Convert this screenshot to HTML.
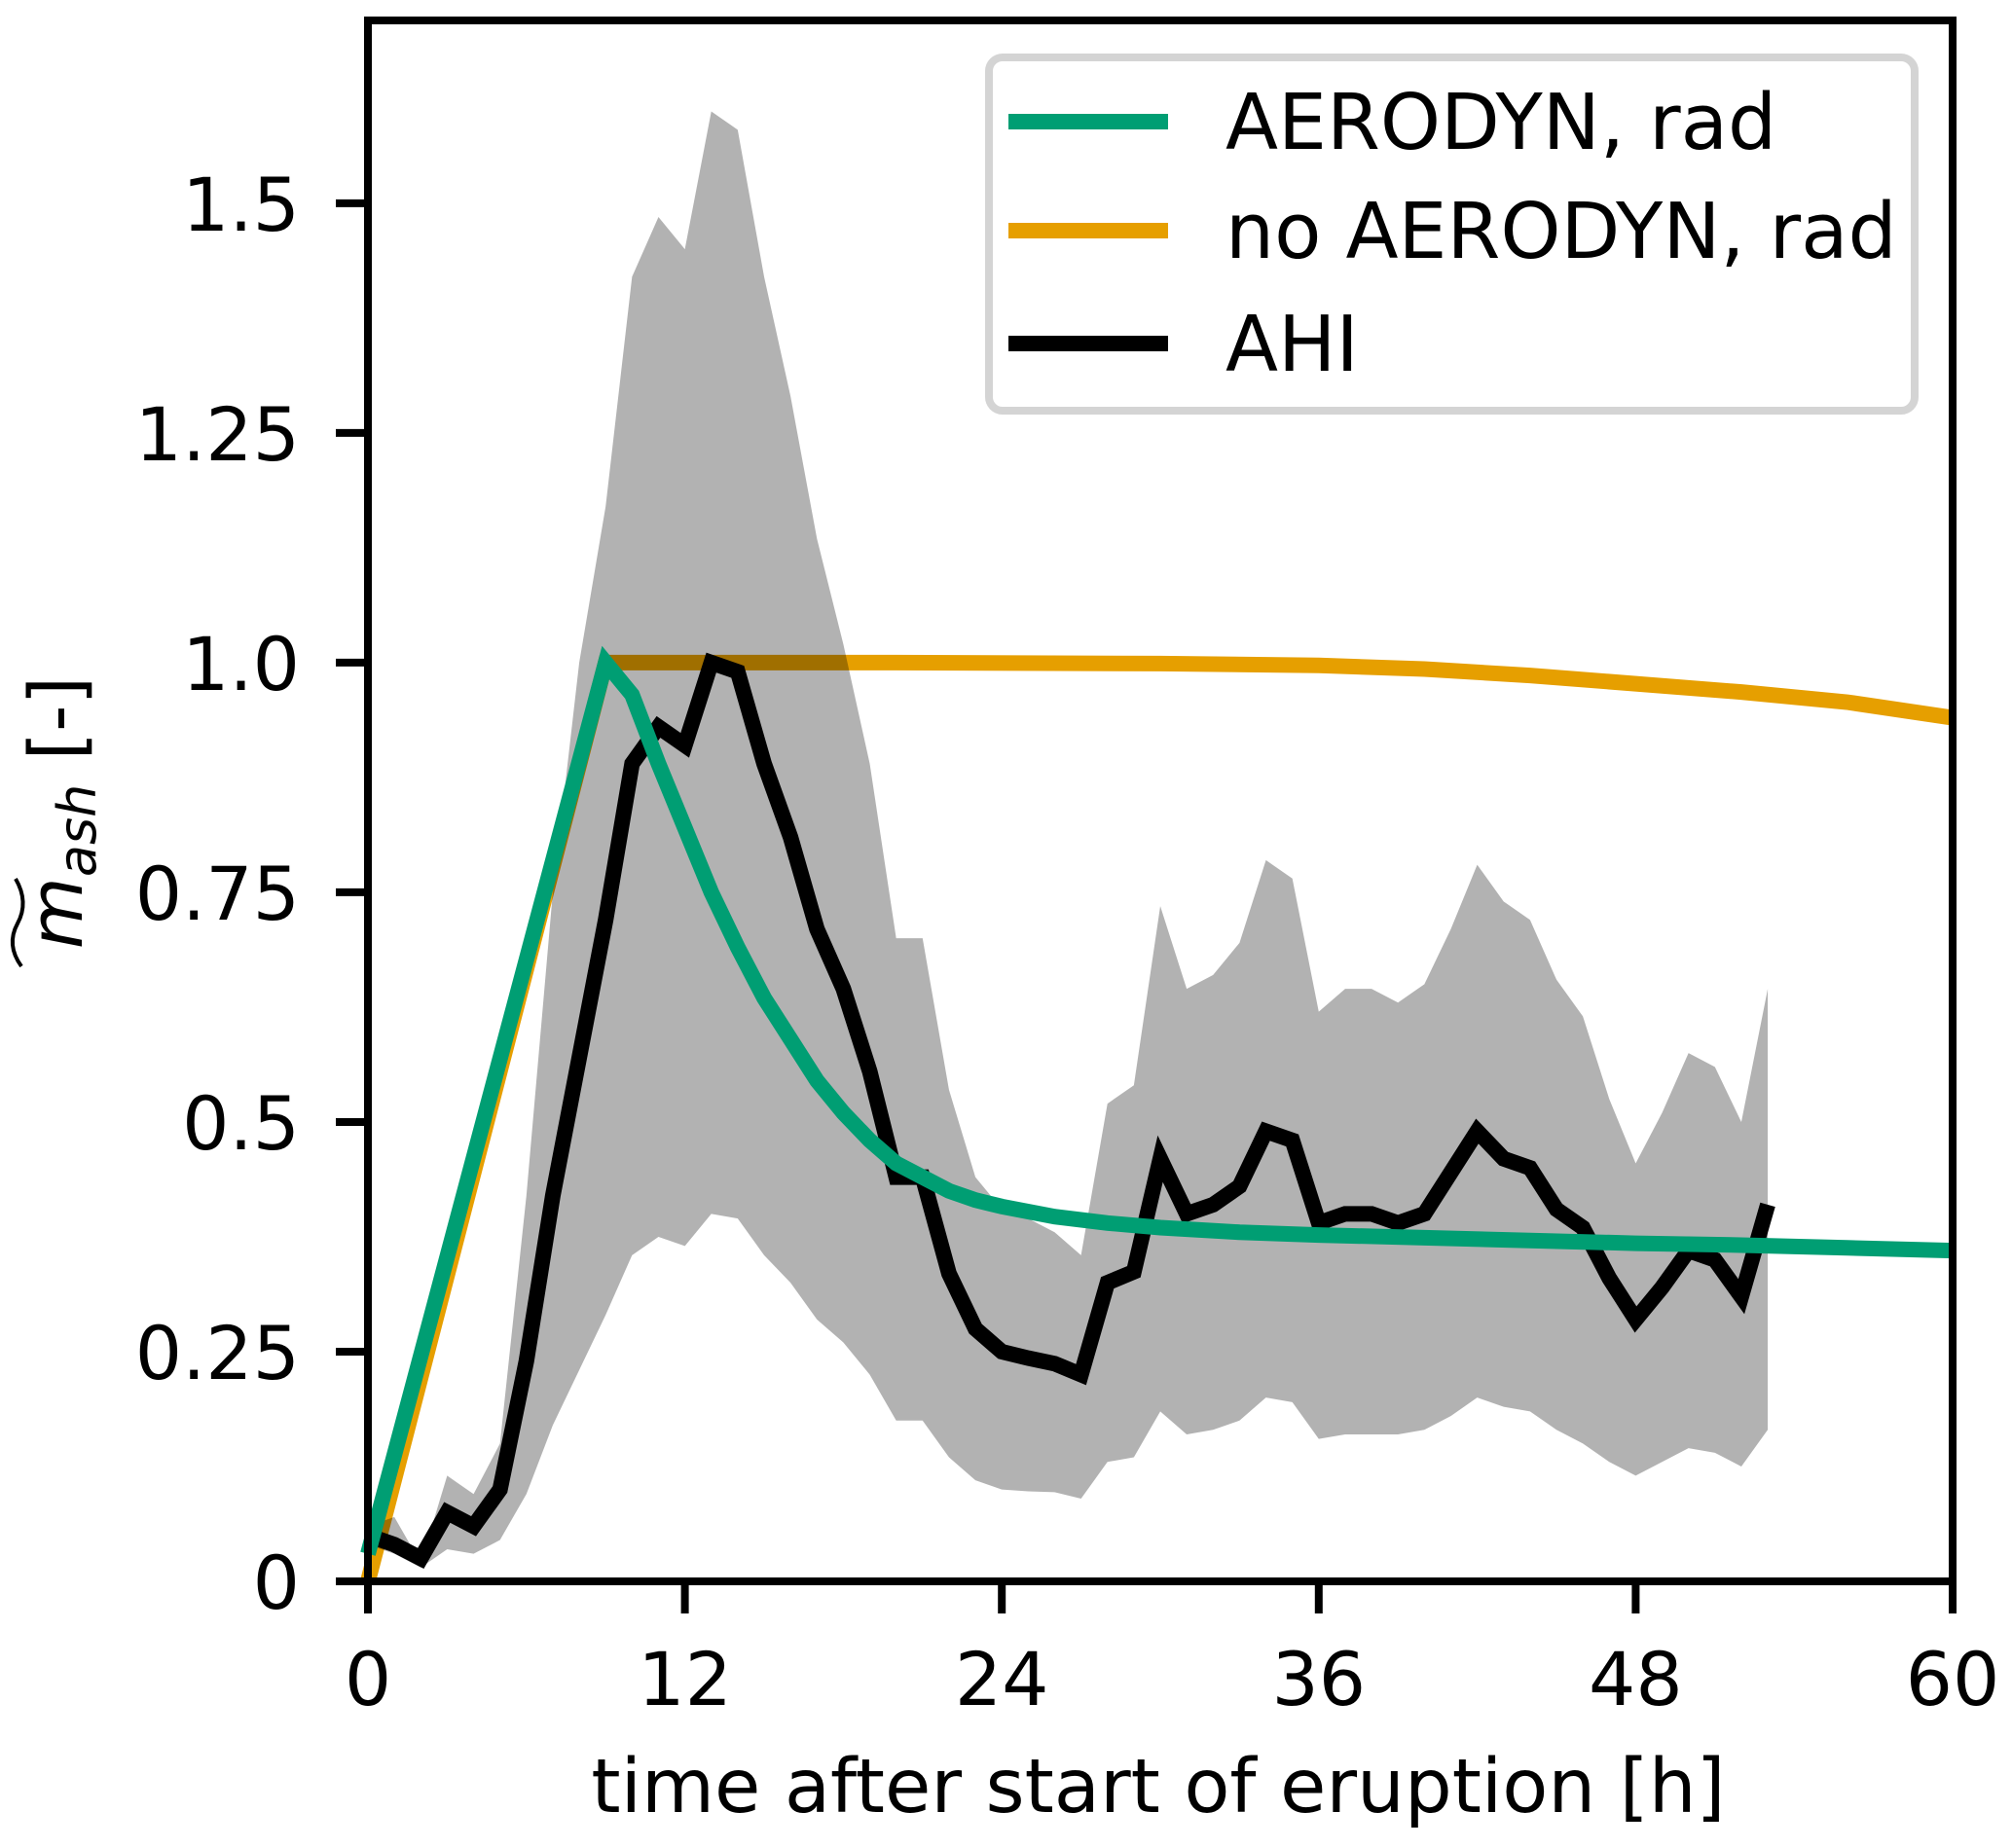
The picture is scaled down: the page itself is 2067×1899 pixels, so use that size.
<!DOCTYPE html>
<html><head><meta charset="utf-8"><style>
html,body{margin:0;padding:0;background:#fff;}
svg{display:block;font-family:"DejaVu Sans","Liberation Sans",sans-serif;}
</style></head><body>
<svg id="chart" width="2067" height="1899" viewBox="0 0 2067 1899" xmlns="http://www.w3.org/2000/svg">
<g id="plot"></g>
<g id="axes"></g>
<g id="legend"></g>
</svg>
<script>
const ahiT = [0,1,2,3,4,5,6,7,8,9,10,11,12,13,14,15,16,17,18,19,20,21,22,23,24,25,26,27,28,29,30,31,32,33,34,35,36,37,38,39,40,41,42,43,44,45,46,47,48,49,50,51,52,53];
const ahiMean = [0.05,0.04,0.025,0.075,0.06,0.10,0.24,0.42,0.57,0.72,0.89,0.93,0.91,1.0,0.99,0.89,0.81,0.71,0.645,0.555,0.44,0.44,0.335,0.275,0.25,0.243,0.237,0.225,0.325,0.337,0.46,0.40,0.41,0.43,0.49,0.48,0.39,0.40,0.40,0.39,0.40,0.445,0.49,0.46,0.45,0.405,0.385,0.33,0.285,0.32,0.36,0.35,0.31,0.41];
const ahiUpper = [0.06,0.07,0.02,0.115,0.095,0.15,0.42,0.75,1.0,1.17,1.42,1.485,1.45,1.60,1.58,1.42,1.29,1.135,1.02,0.89,0.70,0.70,0.535,0.44,0.405,0.395,0.38,0.355,0.52,0.54,0.735,0.645,0.66,0.695,0.785,0.765,0.62,0.645,0.645,0.63,0.65,0.71,0.78,0.74,0.72,0.655,0.615,0.525,0.455,0.51,0.575,0.56,0.50,0.645];
const ahiLower = [0.04,0.03,0.015,0.035,0.03,0.045,0.095,0.17,0.23,0.29,0.355,0.375,0.365,0.40,0.395,0.355,0.325,0.285,0.26,0.225,0.175,0.175,0.135,0.11,0.10,0.098,0.097,0.09,0.13,0.135,0.185,0.16,0.165,0.175,0.20,0.195,0.155,0.16,0.16,0.16,0.165,0.18,0.20,0.19,0.185,0.165,0.15,0.13,0.115,0.13,0.145,0.14,0.125,0.165];
const greenT = [0,9,10,11,12,13,14,15,16,17,18,19,20,21,22,23,24,26,28,30,33,36,40,44,48,52,56,60];
const greenV = [0.03,1.0,0.965,0.89,0.82,0.75,0.69,0.635,0.59,0.545,0.51,0.48,0.455,0.44,0.425,0.415,0.408,0.397,0.39,0.385,0.38,0.377,0.374,0.371,0.368,0.366,0.363,0.36];
const orangeT = [0,9,20,30,36,40,44,48,52,56,60];
const orangeV = [0,1.0,1.0,0.999,0.997,0.993,0.986,0.977,0.968,0.957,0.94];
const xTicks = [0,12,24,36,48,60];
const yTicks = [0,0.25,0.5,0.75,1.0,1.25,1.5];
const yTickLabels = ["0","0.25","0.5","0.75","1.0","1.25","1.5"];

const NS = "http://www.w3.org/2000/svg";
const L=378, R=2006, T=21, B=1625, XMAX=60, YMAX=1.699;
const xs = t => L + (R-L)*t/XMAX;
const ys = v => B - (B-T)*v/YMAX;
function mk(tag, attrs, parent){const e=document.createElementNS(NS,tag);for(const k in attrs)e.setAttribute(k,attrs[k]);parent.appendChild(e);return e;}
const plot=document.getElementById('plot'), axes=document.getElementById('axes'), leg=document.getElementById('legend');

const orange=mk('polyline',{points:orangeT.map((t,i)=>xs(t)+","+ys(orangeV[i])).join(" "),fill:"none",stroke:"#e69f00","stroke-width":16},plot);



let d="M"+ahiT.map((t,i)=>xs(t)+","+ys(ahiUpper[i])).join("L");
for(let i=ahiT.length-1;i>=0;i--) d+="L"+xs(ahiT[i])+","+ys(ahiLower[i]);
const band=mk('path',{d:d+"Z",fill:"#000","fill-opacity":0.3,stroke:"none"},plot);



const black=mk('polyline',{points:ahiT.map((t,i)=>xs(t)+","+ys(ahiMean[i])).join(" "),fill:"none",stroke:"#000","stroke-width":16},plot);



const green=mk('polyline',{points:greenT.map((t,i)=>xs(t)+","+ys(greenV[i])).join(" "),fill:"none",stroke:"#009e73","stroke-width":16},plot);



const frame=mk('rect',{x:L,y:T,width:R-L,height:B-T,fill:"none",stroke:"#000","stroke-width":8},axes);



xTicks.forEach(t=>{
  const tk=mk('line',{x1:xs(t),x2:xs(t),y1:B,y2:B+33,stroke:"#000","stroke-width":8},axes);
  
  
  const tx=mk('text',{x:xs(t),y:1752,"font-size":76,"text-anchor":"middle"},axes);
  tx.textContent=t;
  
  
});
yTicks.forEach((v,i)=>{
  const tk=mk('line',{x1:L-33,x2:L,y1:ys(v),y2:ys(v),stroke:"#000","stroke-width":8},axes);
  
  
  const tx=mk('text',{x:308,y:ys(v)+28,"font-size":76,"text-anchor":"end"},axes);
  tx.textContent=yTickLabels[i];
  
  
});
const xl=mk('text',{x:1190,y:1862,"font-size":77,"text-anchor":"middle"},axes);
xl.textContent="time after start of eruption [h]";



const yg=mk('g',{transform:"translate(84,835) rotate(-90)"},axes);


const yt=mk('text',{x:0,y:0,"font-size":76,"text-anchor":"middle"},yg);
yt.innerHTML='<tspan font-style="italic">m</tspan><tspan font-style="italic" font-size="54" dy="14">ash</tspan><tspan dy="-14"> [-]</tspan>';
const tl=mk('path',{d:"M-158,-62 Q-136,-78 -114,-66 T-68,-68",fill:"none",stroke:"#000","stroke-width":4},yg);



const lb=mk('rect',{x:1016,y:59,width:951,height:363,rx:14,fill:"#fff","fill-opacity":0.8,stroke:"#d4d4d4","stroke-width":8},leg);


const entries=[["AERODYN, rad","#009e73",125],["no AERODYN, rad","#e69f00",237],["AHI","#000",353]];
entries.forEach(e=>{
  const ln=mk('line',{x1:1036,x2:1200,y1:e[2],y2:e[2],stroke:e[1],"stroke-width":16},leg);
  
  
  const tx=mk('text',{x:1259,y:e[2]+28,"font-size":79},leg);
  tx.textContent=e[0];
  
  
});
</script>
</body></html>
